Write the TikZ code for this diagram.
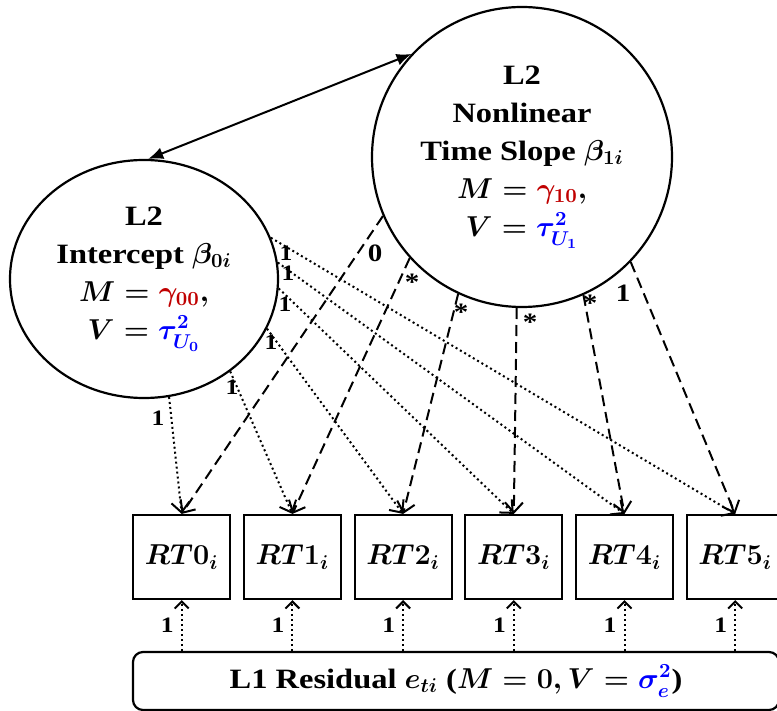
\documentclass[tikz,border=0pt]{standalone}
\usepackage{fontspec}
\setmainfont{Liberation Serif}[FakeStretch=1.16]
\usetikzlibrary{arrows.meta,shapes.geometric}
\definecolor{meanred}{HTML}{C00000}
\definecolor{varblue}{HTML}{0000FF}

\begin{document}
\begin{tikzpicture}[x=0.5pt, y=-0.5pt,
    every node/.style={font=\fontsize{14}{19}\selectfont\bfseries\boldmath},
    latent/.style={draw, ellipse, line width=1.1pt, inner sep=0pt},
    obs/.style={draw, line width=1.1pt, minimum width=48.5pt, minimum height=42pt, inner sep=0pt},
    fixed/.style={line width=1pt, dash pattern=on 1pt off 1.5pt, -{Straight Barb[length=5pt, width=9pt]}},
    free/.style={line width=1pt, dash pattern=on 5.5pt off 3pt, -{Straight Barb[length=5pt, width=9pt]}},
    err/.style={line width=1pt, dash pattern=on 1pt off 1.5pt, -{Straight Barb[length=3.5pt, width=7pt]}},
    lbl/.style={font=\fontsize{11}{12}\selectfont\bfseries, inner sep=0pt},
    biglbl/.style={font=\fontsize{12.5}{14}\selectfont\bfseries, inner sep=0pt}]

	\useasboundingbox (0,0) rectangle (777,711);

	% latent growth factors
	\node[latent, minimum width=134pt, minimum height=119pt] (int) at (144,279) {};
	\node[align=center] (inttext) at (int) {L2\\Intercept $\beta_{0i}$\\$M=\textcolor{meanred}{\gamma_{00}},$\\$V=\textcolor{varblue}{\tau^2_{U_0}}$};
	\node[latent, minimum width=150pt, minimum height=150pt] (slope) at (522,157) {};
	\node[align=center] (slopetext) at (slope) {L2\\Nonlinear\\Time Slope $\beta_{1i}$\\$M=\textcolor{meanred}{\gamma_{10}},$\\$V=\textcolor{varblue}{\tau^2_{U_1}}$};

	\draw[line width=1pt, {Latex[length=7.5pt, width=6pt]}-{Latex[length=7.5pt, width=6pt]}] (int.88) -- (slope.137);

	% observed RTs
	\node[obs] (rt0) at (181.7,557) {$RT0_i$};
	\node[obs] (rt1) at (292.4,557) {$RT1_i$};
	\node[obs] (rt2) at (403.1,557) {$RT2_i$};
	\node[obs] (rt3) at (513.8,557) {$RT3_i$};
	\node[obs] (rt4) at (624.5,557) {$RT4_i$};
	\node[obs] (rt5) at (735.2,557) {$RT5_i$};

	\node[draw, line width=1.1pt, rounded corners=5pt, minimum width=323pt, minimum height=29pt, inner sep=0pt] (res) at (456,681) {L1 Residual $e_{ti}$ ($M=0,V=\textcolor{varblue}{\sigma^2_e}$)};

	% intercept loadings
	\draw[fixed] (int.-78) -- (rt0.north);
	\draw[fixed] (int.-47) -- (rt1.north);
	\draw[fixed] (int.-22) -- (rt2.north);
	\draw[fixed] (int.-4) -- (rt3.north);
	\draw[fixed] (int.7) -- (rt4.north);
	\draw[fixed] (int.18) -- (rt5.north);

	% slope loadings
	\draw[free] (slope.-157) -- (rt0.north);
	\draw[free] (slope.-138) -- (rt1.north);
	\draw[free] (slope.-115) -- (rt2.north);
	\draw[free] (slope.-92) -- (rt3.north);
	\draw[free] (slope.-66) -- (rt4.north);
	\draw[free] (slope.-44) -- (rt5.north);

	\node[lbl] (i0) at (158,418) {1};
	\node[lbl] (i1) at (232,387) {1};
	\node[lbl] (i2) at (271,342) {1};
	\node[lbl] (i3) at (285,304) {1};
	\node[lbl] (i4) at (288,273) {1};
	\node[lbl] (i5) at (286,253) {1};

	\node[biglbl] (s0) at (375,253) {0};
	\node[biglbl] (s1) at (412,282) {*};
	\node[biglbl] (s2) at (461,312) {*};
	\node[biglbl] (s3) at (530,322) {*};
	\node[biglbl] (s4) at (590,303) {*};
	\node[biglbl] (s5) at (623,293) {1};

	% residual paths
	\draw[err] (res.north -| rt0.south) -- node[lbl, left=3.5pt] (e0) {1} (rt0.south);
	\draw[err] (res.north -| rt1.south) -- node[lbl, left=3.5pt] (e1) {1} (rt1.south);
	\draw[err] (res.north -| rt2.south) -- node[lbl, left=3.5pt] (e2) {1} (rt2.south);
	\draw[err] (res.north -| rt3.south) -- node[lbl, left=3.5pt] (e3) {1} (rt3.south);
	\draw[err] (res.north -| rt4.south) -- node[lbl, left=3.5pt] (e4) {1} (rt4.south);
	\draw[err] (res.north -| rt5.south) -- node[lbl, left=3.5pt] (e5) {1} (rt5.south);
    \end{tikzpicture}
\end{document}
